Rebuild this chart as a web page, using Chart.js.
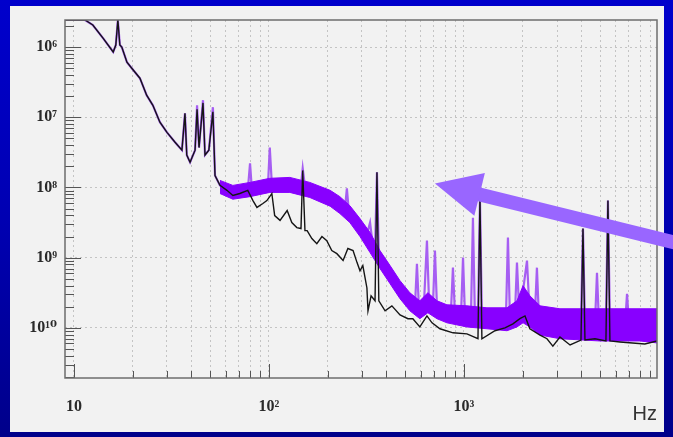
<!DOCTYPE html>
<html>
<head>
<meta charset="utf-8">
<script src="https://cdn.jsdelivr.net/npm/chart.js@4.4.1/dist/chart.umd.min.js"></script>
<style>
  html, body { margin: 0; padding: 0; }
  body {
    width: 673px; height: 437px; overflow: hidden;
    background: linear-gradient(to bottom, #0000cc 0%, #0000b2 50%, #00008a 100%);
  }
  canvas { display: block; }
</style>
</head>
<body>
<canvas id="psdChart" width="673" height="437"></canvas>
<script>
// axis ticks
const xGridValues = [10, 20, 30, 40, 50, 60, 70, 80, 90, 100, 200, 300, 400, 500, 600, 700, 800, 900,
                     1000, 2000, 3000, 4000, 5000, 6000, 7000, 8000, 9000];
const xTickValues = [10, 100, 1000];
const xTickLabels = ['10', '10²', '10³'];
const yTickValues = [1e-10, 1e-9, 1e-8, 1e-7, 1e-6];
const yTickLabels = ['10¹⁰', '10⁹', '10⁸', '10⁷', '10⁶'];
const xRange = [9.0, 9770];
const yRange = [1.93e-11, 2.43e-6];

// black trace (Hz, amplitude)
const blackHz = [9.0, 11.4, 12.5, 14.1, 15.9, 16.4, 16.8, 17.2, 17.6, 18.7,
  19.8, 21.8, 23.6, 25.4, 27.6, 30.0, 33.0, 35.8, 37.1, 37.9,
  39.4, 41.8, 42.8, 43.8, 45.9, 47.0, 49.2, 51.6, 52.9, 56.1,
  60.9, 65.3, 70.9, 77.9, 82.8, 86.8, 93.1, 97.6, 103.5, 107,
  114, 124, 131, 139, 146, 149, 153, 157, 166, 176,
  187, 198, 210, 223, 240, 254, 270, 283, 293, 303,
  318, 322, 334, 350, 358, 366, 394, 427, 470, 516,
  547, 594, 646, 686, 753, 879, 1036, 1180, 1208, 1236,
  1442, 1622, 1783, 1936, 2056, 2178, 2455, 2665, 2857, 3107,
  3500, 3981, 4077, 4174, 4697, 5346, 5474, 5605, 6310, 8470,
  9770];
const blackAmp = [2.43e-6, 2.43e-6, 2.06e-6, 1.34e-6, 8.5e-7, 1.07e-6, 2.43e-6, 1.07e-6, 1.0e-6, 6.1e-7,
  5.0e-7, 3.6e-7, 2.06e-7, 1.48e-7, 8.5e-8, 6.1e-8, 4.4e-8, 3.4e-8, 1.14e-7, 2.9e-8,
  2.28e-8, 3.4e-8, 1.3e-7, 3.7e-8, 1.6e-7, 2.9e-8, 3.4e-8, 1.2e-7, 1.48e-8, 1.07e-8,
  9.1e-9, 7.7e-9, 8.2e-9, 9.1e-9, 6.5e-9, 5.2e-9, 5.9e-9, 6.5e-9, 8.2e-9, 3.98e-9,
  3.4e-9, 4.7e-9, 3.16e-9, 2.68e-9, 2.6e-9, 1.75e-8, 2.43e-9, 2.43e-9, 1.87e-9, 1.58e-9,
  2.0e-9, 1.75e-9, 1.26e-9, 1.14e-9, 9.1e-10, 1.35e-9, 1.26e-9, 8.5e-10, 6.5e-10, 7.7e-10,
  3.7e-10, 1.75e-10, 2.86e-10, 2.43e-10, 1.64e-8, 2.43e-10, 1.75e-10, 2.06e-10, 1.53e-10, 1.35e-10,
  1.35e-10, 1.03e-10, 1.48e-10, 1.18e-10, 9.7e-11, 8.5e-11, 8.2e-11, 7.0e-11, 7.0e-9, 7.0e-11,
  9.1e-11, 1.0e-10, 1.14e-10, 1.35e-10, 1.48e-10, 9.7e-11, 7.9e-11, 7.0e-11, 5.5e-11, 7.4e-11,
  5.7e-11, 6.7e-11, 2.6e-9, 6.7e-11, 7.0e-11, 6.5e-11, 6.5e-9, 6.5e-11, 6.3e-11, 5.9e-11,
  6.5e-11];

// violet trace (Hz, amplitude)
const violetHz = [9.0, 11.4, 12.5, 14.1, 15.9, 16.4, 16.8, 17.2, 17.6, 18.7,
  19.8, 21.8, 23.6, 25.4, 27.6, 30.0, 33.0, 35.8, 37.1, 37.9,
  39.4, 41.8, 42.8, 43.8, 45.9, 47.0, 49.2, 51.6, 52.9, 56.1,
  60.9, 65.3, 70.9, 77.9, 80.0, 81.8, 89.9, 98.9, 101, 103.5,
  117, 131, 146, 149, 153, 172, 194, 218, 245, 251,
  257, 286, 314, 330, 341, 350, 358, 366,
  418, 470, 528, 561, 574, 588, 624, 646, 662, 694,
  710, 727, 818, 857, 878, 899, 966, 989, 1012, 1086,
  1112, 1138, 1180, 1208, 1236, 1442, 1641, 1681, 1721, 1827,
  1870, 1915, 2009, 2105, 2155, 2313, 2367, 2424, 3107, 3981,
  4077, 4174, 4697, 4810, 4925, 5346, 5474, 5605, 6699, 6858,
  7022, 9770];
const violetAmp = [2.43e-6, 2.43e-6, 2.06e-6, 1.34e-6, 8.5e-7, 1.07e-6, 2.43e-6, 1.07e-6, 1.0e-6, 6.1e-7,
  5.0e-7, 3.6e-7, 2.06e-7, 1.48e-7, 8.5e-8, 6.1e-8, 4.4e-8, 3.4e-8, 1.14e-7, 2.9e-8,
  2.28e-8, 3.4e-8, 1.48e-7, 3.7e-8, 1.75e-7, 2.9e-8, 3.4e-8, 1.39e-7, 1.48e-8, 1.07e-8,
  9.1e-9, 7.7e-9, 8.2e-9, 9.1e-9, 2.2e-8, 9.1e-9, 1.03e-8, 1.1e-8, 3.7e-8, 1.1e-8,
  1.07e-8, 1.14e-8, 1.07e-8, 1.87e-8, 1.03e-8, 9.1e-9, 7.4e-9, 6.1e-9, 4.7e-9, 9.7e-9,
  4.4e-9, 2.86e-9, 1.87e-9, 3.16e-9, 1.48e-9, 1.26e-9, 1.64e-8, 1.03e-9,
  6.1e-10, 3.6e-10, 2.43e-10, 2.06e-10, 8.2e-10, 1.87e-10, 2.28e-10, 1.75e-9, 2.43e-10, 2.2e-10,
  1.26e-9, 2.0e-10, 1.64e-10, 1.64e-10, 7.2e-10, 1.58e-10, 1.53e-10, 1.0e-9, 1.48e-10, 1.44e-10,
  3.7e-9, 1.44e-10, 1.44e-10, 7.0e-9, 1.39e-10, 1.35e-10, 1.35e-10, 1.93e-9, 1.35e-10, 1.64e-10,
  8.5e-10, 2.0e-10, 3.4e-10, 9.1e-10, 2.43e-10, 1.64e-10, 7.2e-10, 1.35e-10, 1.18e-10, 1.14e-10,
  2.6e-9, 1.14e-10, 1.14e-10, 6.1e-10, 1.14e-10, 1.14e-10, 6.5e-9, 1.14e-10, 1.1e-10, 3.06e-10,
  1.1e-10, 1.1e-10];

// thick noise band of the violet trace: upper and lower edge
const bandHz = [56.1, 65.3, 80, 101, 128, 162, 206, 231, 260, 293, 330, 371, 418, 470, 528, 594,
  653, 727, 818, 1036, 1312, 1663, 1870, 2009, 2178, 2455, 3107, 4980, 7998, 9770];
const bandHigh = [1.26e-8, 1.07e-8, 1.18e-8, 1.35e-8, 1.39e-8, 1.18e-8, 9.1e-9, 7.4e-9, 5.5e-9, 3.6e-9,
  2.28e-9, 1.26e-9, 7.7e-10, 4.7e-10, 3.16e-10, 2.43e-10, 3.16e-10, 2.43e-10, 2.13e-10, 2.06e-10,
  1.93e-10, 1.93e-10, 2.43e-10, 3.98e-10, 2.86e-10, 2.06e-10, 1.87e-10, 1.87e-10, 1.87e-10, 1.87e-10];
const bandLow = [8.2e-9, 6.8e-9, 7.4e-9, 8.5e-9, 8.5e-9, 7.2e-9, 5.4e-9, 4.25e-9, 3.16e-9, 2.0e-9,
  1.18e-9, 7.0e-10, 4.25e-10, 2.6e-10, 1.75e-10, 1.35e-10, 1.64e-10, 1.35e-10, 1.18e-10, 1.03e-10,
  9.7e-11, 9.1e-11, 1.03e-10, 1.18e-10, 1.03e-10, 7.9e-11, 7.0e-11, 6.5e-11, 6.5e-11, 6.1e-11];

// arrow annotation, in data units
const arrowTip = { hz: 710, amp: 1.14e-8 };
const arrowTail = { hz: 12500, amp: 1.6e-9 };

function toPoints(xs, ys) {
  return xs.map((x, i) => ({ x: x, y: ys[i] }));
}

const panelPlugin = {
  id: 'panel',
  beforeDraw(chart) {
    const ctx = chart.ctx;
    ctx.save();
    ctx.fillStyle = '#f2f2f2';
    ctx.fillRect(10, 6, 654, 426);
    ctx.restore();
  },
  afterDatasetsDraw(chart) {
    const { ctx, chartArea: a, scales: { x, y } } = chart;
    ctx.save();
    // tick marks inside the frame
    ctx.strokeStyle = '#555';
    ctx.lineWidth = 1;
    ctx.beginPath();
    for (let e = -11; e <= -6; e++) {
      for (let m = 1; m <= 9; m++) {
        const v = m * Math.pow(10, e);
        if (v < yRange[0] || v > yRange[1]) continue;
        const py = Math.round(y.getPixelForValue(v)) + 0.5;
        const len = m === 1 ? 16 : 9;
        ctx.moveTo(a.left, py);
        ctx.lineTo(a.left + len, py);
      }
    }
    xGridValues.forEach(v => {
      const px = Math.round(x.getPixelForValue(v)) + 0.5;
      const len = xTickValues.includes(v) ? 14 : 7;
      ctx.moveTo(px, a.bottom);
      ctx.lineTo(px, a.bottom - len);
    });
    ctx.stroke();
    // frame
    ctx.strokeStyle = '#6e6e6e';
    ctx.lineWidth = 1.5;
    ctx.strokeRect(a.left, a.top, a.right - a.left, a.bottom - a.top);
    ctx.restore();
  },
  afterDraw(chart) {
    const { ctx, scales: { x, y } } = chart;
    const tx = x.getPixelForValue(arrowTip.hz), ty = y.getPixelForValue(arrowTip.amp);
    const sx = x.getPixelForValue(arrowTail.hz), sy = y.getPixelForValue(arrowTail.amp);
    const len = Math.hypot(sx - tx, sy - ty);
    const ux = (sx - tx) / len, uy = (sy - ty) / len;
    const bx = tx + ux * 46, by = ty + uy * 46;
    ctx.save();
    ctx.strokeStyle = '#9966ff';
    ctx.fillStyle = '#9966ff';
    ctx.lineWidth = 14;
    ctx.beginPath();
    ctx.moveTo(bx - ux * 2, by - uy * 2);
    ctx.lineTo(sx, sy);
    ctx.stroke();
    ctx.beginPath();
    ctx.moveTo(tx, ty);
    ctx.lineTo(bx - uy * 22, by + ux * 22);
    ctx.lineTo(bx + uy * 22, by - ux * 22);
    ctx.closePath();
    ctx.fill();
    ctx.restore();
  }
};

const tickFont = { family: '"Liberation Serif", "DejaVu Serif", serif', size: 16, weight: 'bold' };

new Chart(document.getElementById('psdChart'), {
  type: 'line',
  data: {
    datasets: [
      { label: 'black', data: toPoints(blackHz, blackAmp), borderColor: '#151515', borderWidth: 1.4, order: 1 },
      { label: 'band low', data: toPoints(bandHz, bandLow), borderColor: '#8800ff', borderWidth: 1, fill: false, order: 2 },
      { label: 'band high', data: toPoints(bandHz, bandHigh), borderColor: '#8800ff', borderWidth: 1,
        backgroundColor: '#8800ff', fill: '-1', order: 2 },
      { label: 'violet', data: toPoints(violetHz, violetAmp), borderColor: '#a65ef2', borderWidth: 2.2, order: 3 }
    ]
  },
  options: {
    responsive: false,
    animation: false,
    layout: { padding: { top: 20, right: 16, left: 0, bottom: 0 } },
    elements: { point: { radius: 0 }, line: { tension: 0 } },
    plugins: { legend: { display: false }, tooltip: { enabled: false } },
    scales: {
      x: {
        type: 'logarithmic',
        min: xRange[0],
        max: xRange[1],
        afterBuildTicks: s => { s.ticks = xGridValues.map(v => ({ value: v })); },
        afterFit: s => { s.height = 59; },
        ticks: {
          autoSkip: false, maxRotation: 0, padding: 19, color: '#2a2a2a', font: tickFont,
          callback: v => {
            const i = xTickValues.indexOf(v);
            return i >= 0 ? xTickLabels[i] : '';
          }
        },
        grid: { color: '#c4c4c4', lineWidth: 1, drawTicks: false },
        border: { display: false, dash: [2, 3] },
        title: {
          display: true, text: 'Hz', align: 'end', color: '#333',
          font: { family: '"Liberation Sans", Arial, sans-serif', size: 20 },
          padding: { top: 0, bottom: 11 }
        }
      },
      y: {
        type: 'logarithmic',
        min: yRange[0],
        max: yRange[1],
        afterBuildTicks: s => { s.ticks = yTickValues.map(v => ({ value: v })); },
        afterFit: s => { s.width = 65; },
        ticks: {
          autoSkip: false, padding: 8, color: '#2a2a2a', font: tickFont,
          callback: v => {
            const i = yTickValues.indexOf(v);
            return i >= 0 ? yTickLabels[i] : '';
          }
        },
        grid: { color: '#c4c4c4', lineWidth: 1, drawTicks: false },
        border: { display: false, dash: [2, 3] }
      }
    }
  },
  plugins: [panelPlugin]
});
</script>
</body>
</html>
